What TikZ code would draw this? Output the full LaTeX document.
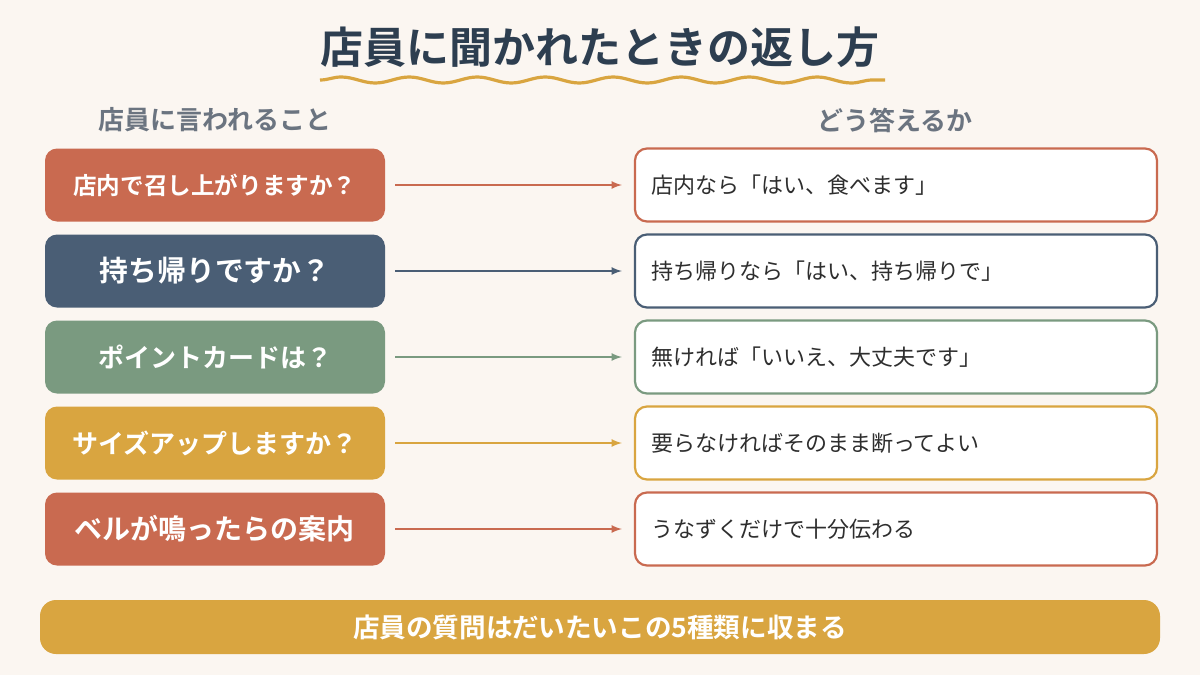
\documentclass[tikz,border=0pt]{standalone}
\usepackage{fontspec}
\setmainfont{Noto Sans CJK JP}[BoldFont={Noto Sans CJK JP Bold}]
\usetikzlibrary{decorations.pathmorphing}
\definecolor{bg}{HTML}{FBF6F1}
\definecolor{navy}{HTML}{2D3E50}
\definecolor{cred}{HTML}{C96A50}
\definecolor{cblue}{HTML}{4A5E75}
\definecolor{cgreen}{HTML}{7A9A80}
\definecolor{cgold}{HTML}{D9A540}
\definecolor{hgrey}{HTML}{6B7480}
\definecolor{tdark}{HTML}{2E2E2E}
\tikzset{
  ask/.style={draw=none, fill=#1, rounded corners=6pt, minimum width=170pt, minimum height=36.5pt, text=white, font=\bfseries},
  reply/.style={draw=#1, line width=1.1pt, fill=white, rounded corners=6pt, minimum width=261pt, minimum height=36.5pt, text=tdark, font=\fontsize{11pt}{13pt}\selectfont, text width=245pt, align=left},
  link/.style={->, >=latex, line width=0.8pt, draw=#1}
}
\begin{document}
\begin{tikzpicture}[x=0.5pt, y=-0.5pt]
                \fill[bg] (0,0) rectangle (1200,675);
                \useasboundingbox (0,0) rectangle (1200,675);

                % Title
                \node at (600,47) (title) {\fontsize{21.5pt}{24pt}\selectfont\bfseries\color{navy}店員に聞かれたときの返し方};
                \draw[cgold, line width=1.6pt, decorate, decoration={snake, amplitude=1.5pt, segment length=34pt}] (320,80) -- (885,80);

                % Headers
                \node at (215,120) (hask) {\fontsize{13pt}{15pt}\selectfont\bfseries\color{hgrey}店員に言われること};
                \node at (895,120) (hreply) {\fontsize{13pt}{15pt}\selectfont\bfseries\color{hgrey}どう答えるか};

                % Nodes
                \node at (215,185) (a1) [ask=cred] {\fontsize{11.8pt}{13pt}\selectfont 店内で召し上がりますか？};
                \node at (215,271) (a2) [ask=cblue] {\fontsize{14.4pt}{16pt}\selectfont 持ち帰りですか？};
                \node at (215,357) (a3) [ask=cgreen] {\fontsize{13pt}{15pt}\selectfont ポイントカードは？};
                \node at (215,443) (a4) [ask=cgold] {\fontsize{13pt}{15pt}\selectfont サイズアップしますか？};
                \node at (215,529) (a5) [ask=cred] {\fontsize{14pt}{16pt}\selectfont ベルが鳴ったらの案内};

                \node at (896,185) (r1) [reply=cred] {店内なら「はい、食べます」};
                \node at (896,271) (r2) [reply=cblue] {持ち帰りなら「はい、持ち帰りで」};
                \node at (896,357) (r3) [reply=cgreen] {無ければ「いいえ、大丈夫です」};
                \node at (896,443) (r4) [reply=cgold] {要らなければそのまま断ってよい};
                \node at (896,529) (r5) [reply=cred] {うなずくだけで十分伝わる};

                % Arrows
                \draw[link=cred] (a1.east) ++(10,0) -- ([xshift=-6pt]r1.west);
                \draw[link=cblue] (a2.east) ++(10,0) -- ([xshift=-6pt]r2.west);
                \draw[link=cgreen] (a3.east) ++(10,0) -- ([xshift=-6pt]r3.west);
                \draw[link=cgold] (a4.east) ++(10,0) -- ([xshift=-6pt]r4.west);
                \draw[link=cred] (a5.east) ++(10,0) -- ([xshift=-6pt]r5.west);

                % Banner
                \node at (600,627) (sum) [fill=cgold, rounded corners=8pt, minimum width=560pt, minimum height=27pt, text=white, font=\fontsize{13.3pt}{15pt}\selectfont\bfseries] {店員の質問はだいたいこの5種類に収まる};

            \end{tikzpicture}
\end{document}
